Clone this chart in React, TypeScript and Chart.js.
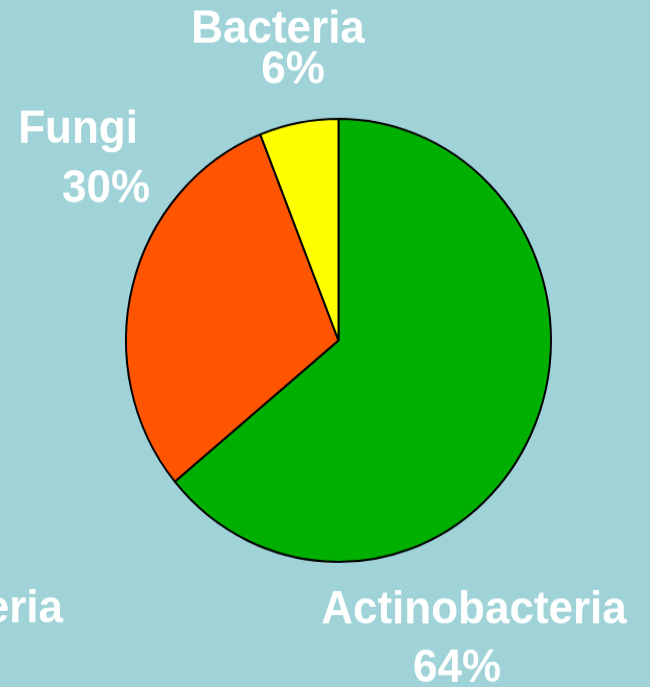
import { useEffect, useRef } from "react";
import { Chart, registerables } from "chart.js";

Chart.register(...registerables);

// ---- data ----
const categories = ["Actinobacteria", "Fungi", "Bacteria"];
const shares = [64, 30, 6];
const sliceColors = ["#00B000", "#FF5500", "#FFFF00"];
const clippedNeighbourLabel = "Actinobacteria";

// ---- layout (label anchors in canvas px: [nameX, nameY, pctX, pctY]) ----
const labelAnchors: Record<string, [number, number, number, number]> = {
  Actinobacteria: [474, 598, 457, 654],
  Fungi: [78, 137, 106, 194],
  Bacteria: [278, 41, 293, 80],
};
const CANVAS_W = 650;
const CANVAS_H = 659;
const PAGE_H = 687;
const BG = "#9FD3D8";

const labelPlugin = {
  id: "sliceLabels",
  afterDraw(chart: any) {
    const ctx = chart.ctx as CanvasRenderingContext2D;
    const data = chart.data.datasets[0].data as number[];
    const total = data.reduce((a, b) => a + b, 0);
    ctx.save();
    ctx.fillStyle = "#FFFFFF";
    ctx.font = "bold 44px 'Liberation Sans', Arial, sans-serif";
    ctx.textBaseline = "alphabetic";
    ctx.textAlign = "center";
    (chart.data.labels as string[]).forEach((name, i) => {
      const a = labelAnchors[name];
      if (!a) return;
      const pct = Math.round((data[i] / total) * 100);
      ctx.fillText(name, a[0], a[1]);
      ctx.fillText(`${pct}%`, a[2], a[3]);
    });
    // partially visible label from the neighbouring chart
    ctx.textAlign = "right";
    ctx.fillText(clippedNeighbourLabel, 63, 597);
    ctx.restore();
  },
};

export default function App() {
  const ref = useRef<HTMLCanvasElement | null>(null);

  useEffect(() => {
    document.body.style.margin = "0";
    document.body.style.background = BG;
    if (!ref.current) return;
    const chart = new Chart(ref.current, {
      type: "pie",
      data: {
        labels: categories,
        datasets: [
          {
            data: shares,
            backgroundColor: sliceColors,
            borderColor: "#000000",
            borderWidth: 2,
          },
        ],
      },
      options: {
        animation: false,
        responsive: false,
        maintainAspectRatio: false,
        layout: { padding: { left: 125, right: 98, top: 113, bottom: 119 } },
        plugins: {
          legend: { display: false },
          tooltip: { enabled: false },
        },
      },
      plugins: [labelPlugin],
    });
    return () => chart.destroy();
  }, []);

  return (
    <div
      style={{
        width: CANVAS_W,
        height: PAGE_H,
        overflow: "hidden",
        background: BG,
        position: "relative",
      }}
    >
      <canvas
        ref={ref}
        width={CANVAS_W}
        height={CANVAS_H}
        style={{
          display: "block",
          width: CANVAS_W,
          height: CANVAS_H,
          transform: `scaleY(${PAGE_H / CANVAS_H})`,
          transformOrigin: "0 0",
        }}
      />
    </div>
  );
}
